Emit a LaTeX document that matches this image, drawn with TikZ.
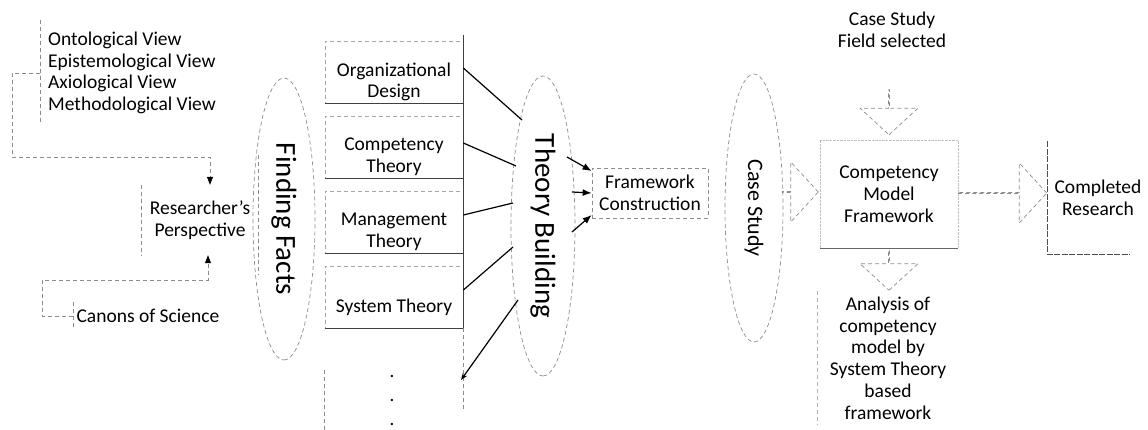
\documentclass[tikz,border=0pt]{standalone}
\usepackage{fontspec}
\setmainfont{Carlito}
\usetikzlibrary{shapes.geometric,shapes.arrows,arrows.meta,positioning}

\begin{document}
\begin{tikzpicture}[x=1pt,y=-1pt,font=\fontsize{19.5}{21.8}\selectfont,
  faint/.style={draw=black!45, dash pattern=on 4pt off 3pt, line width=0.7pt},
  stage/.style={ellipse, faint, rotate=-90, font=\fontsize{29}{32}\selectfont},
  theorybox/.style={rectangle, faint, draw=black!35, minimum width=138pt, minimum height=62pt},
  link/.style={draw=black, line width=1.2pt},
  tip/.style={-{Triangle[length=8pt,width=6pt,color=black]}},
  blockarrow/.style={single arrow, faint, single arrow tip angle=95, inner sep=0pt}]
  \useasboundingbox (0,0) rectangle (1148,430);

  % Perspective
  \node[align=left, anchor=west, inner sep=0pt] (views) at (48,73)
    {Ontological View\\Epistemological View\\Axiological View\\Methodological View};
  \draw[faint] ([xshift=-8pt,yshift=12pt]views.north west) -- ([xshift=-8pt,yshift=-10pt]views.south west);
  \node[minimum width=116pt, minimum height=70pt, align=center] (persp) at (200,220) {Researcher’s\\Perspective};
  \draw[faint] (persp.north west) -- (persp.south west);
  \draw[faint] ([yshift=30pt]persp.north east) -- ([yshift=-20pt]persp.south east);
  \node[anchor=west] (canons) at (73,316) {Canons of Science};
  \draw[faint] ([yshift=14pt]canons.west) -- ([yshift=-14pt]canons.west);
  \coordinate (vjoin) at (40,73);
  \draw[faint, tip] (vjoin) -- (12,73) -- (12,157) -- (210,157) -- ([xshift=10pt]persp.north);
  \draw[faint, tip] (canons.west) -- (42,316) -- (42,280) -- (208,280) -- ([xshift=8pt]persp.south);

  % Finding facts
  \node[stage, minimum width=282pt, minimum height=62pt] (facts) at (284,219) {Finding Facts};
  \foreach \name/\txt/\y in {org/{Organizational\\Design}/72, comp/{Competency\\Theory}/147,
      mgmt/{Management\\Theory}/222, sys/{System Theory}/297} {
    \node[theorybox] (\name) at (394,\y) {};
    \node[align=center] (\name-txt) at ([yshift=-10pt]\name.center) {\txt};
    \draw[black!75, line width=0.9pt] (\name.south west) -- (\name.south east);
  }
  \draw[black!75, line width=0.9pt] ([yshift=6pt]org.north east) -- (sys.south east);
  \node[align=center, font=\fontsize{19}{24}\selectfont] (more) at (392,400) {.\\.\\.};
  \draw[faint] ([yshift=-42pt]sys.south west) -- ++(0,62);
  \draw[faint] (sys.south east) -- ++(0,82);

  % Theory building
  \node[stage, minimum width=300pt, minimum height=64pt] (theory) at (543,226) {Theory Building};
  \coordinate (tb1) at (522,120);
  \coordinate (tb2) at (516,166);
  \coordinate (tb3) at (513,203);
  \coordinate (tb4) at (513,247);
  \coordinate (tb5) at (518,300);
  \coordinate (moreend) at (461,380);
  \draw[link] ([yshift=4pt]org.east) -- (tb1);
  \draw[link] ([yshift=4pt]comp.east) -- (tb2);
  \draw[link] ([yshift=7pt]mgmt.east) -- (tb3);
  \draw[link] ([yshift=7pt]sys.east) -- (tb4);
  \draw[link, -{Stealth[length=7pt]}] (tb5) -- (moreend);

  \node[faint, minimum width=116pt, minimum height=50pt, align=center] (frame) at (650,193) {Framework\\Construction};
  \coordinate (tbo1) at (567,157);
  \coordinate (tbo2) at (572,192);
  \coordinate (tbo3) at (572,232);
  \draw[link, -{Latex[length=9pt,width=7pt]}] (tbo1) -- ([yshift=22pt]frame.west);
  \draw[link, -{Latex[length=9pt,width=7pt]}] (tbo2) -- (frame.west);
  \draw[link, -{Latex[length=9pt,width=7pt]}] (tbo3) -- ([yshift=-22pt]frame.west);

  % Case study
  \node[stage, font=\fontsize{22}{26}\selectfont, minimum width=268pt, minimum height=58pt] (case) at (754,208) {Case Study};
  \node[align=center] (field) at (892,30) {Case Study\\Field selected};
  \node[draw=black!25, densely dotted, minimum width=138pt, minimum height=108pt, align=center] (model) at (889,194)
    {Competency\\Model\\Framework};
  \draw[black!60, line width=0.8pt] (model.south west) -- (model.south east);
  \node[minimum width=140pt, minimum height=133pt, align=center] (analysis) at (888,358)
    {Analysis of\\competency\\model by\\System Theory\\based\\framework};
  \draw[faint, draw=black!30] (analysis.north west) -- (analysis.south west);
  \node[minimum width=100pt, minimum height=113pt, align=center] (done) at (1098,198) {Completed\\Research};
  \draw[black!70, line width=0.9pt, dash pattern=on 6pt off 1.5pt] (done.north west) -- (done.south west) -- ([xshift=-18pt]done.south east);

  % Block arrows
  \node[blockarrow, minimum height=36pt, minimum width=60pt, single arrow head extend=18pt] (toModel) at (800,192) {};
  \node[blockarrow, minimum height=45pt, minimum width=58pt, single arrow head extend=19pt, shape border rotate=270] (fieldDown) at (889,112) {};
  \node[blockarrow, minimum height=40pt, minimum width=58pt, single arrow head extend=19pt, shape border rotate=270] (modelDown) at (889,270) {};
  \node[blockarrow, minimum height=89pt, minimum width=60pt, single arrow head extend=20pt] (toDone) at (1002,193) {};
\end{tikzpicture}
\end{document}
